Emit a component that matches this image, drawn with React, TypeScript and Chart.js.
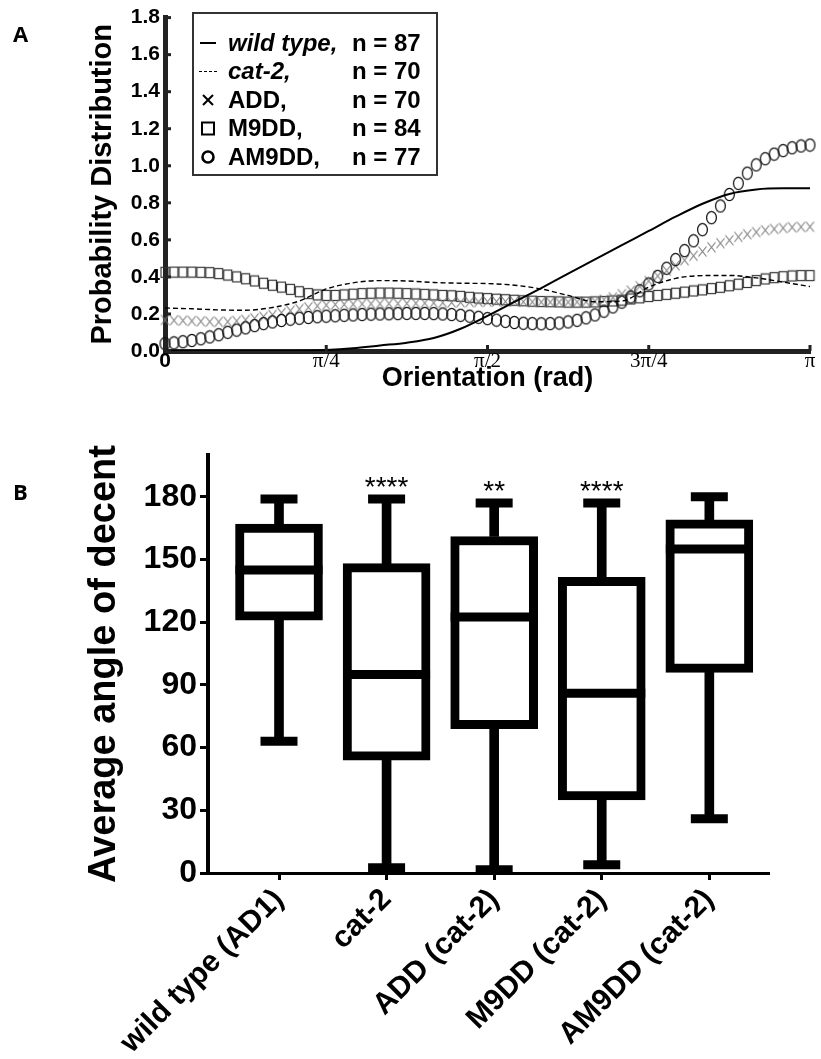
import React, { useEffect, useRef } from 'react';
import { Chart, registerables } from 'chart.js';

Chart.register(...registerables);
Chart.defaults.font.family = "'Liberation Sans', Arial, sans-serif";
Chart.defaults.color = '#000';

// ---------------- Panel A data ----------------
// sampling grids (orientation in radians)
const FINE_STEP_COUNT = 72;
const COARSE_STEP_COUNT = 24;
const FINE_ANGLES = Array.from({ length: FINE_STEP_COUNT + 1 }, (_, i) => (i * Math.PI) / FINE_STEP_COUNT);
const COARSE_ANGLES = Array.from({ length: COARSE_STEP_COUNT + 1 }, (_, i) => (i * Math.PI) / COARSE_STEP_COUNT);

const WILD_TYPE = [
  0, 0, 0, 0, 0, 0, 0.005, 0.015, 0.03, 0.045, 0.07, 0.12, 0.19, 0.265, 0.34, 0.418, 0.495, 0.572, 0.648,
  0.725, 0.795, 0.848, 0.872, 0.878, 0.878,
];
const CAT2 = [
  0.232, 0.228, 0.222, 0.22, 0.235, 0.27, 0.335, 0.368, 0.38, 0.378, 0.37, 0.366, 0.364, 0.355, 0.335, 0.3,
  0.266, 0.27, 0.345, 0.392, 0.407, 0.408, 0.395, 0.372, 0.348,
];
const ADD = [
  0.168, 0.166, 0.164, 0.162, 0.16, 0.158, 0.157, 0.158, 0.162, 0.168,
  0.176, 0.185, 0.195, 0.206, 0.217, 0.227, 0.236, 0.243, 0.248, 0.251,
  0.252, 0.253, 0.254, 0.255, 0.255, 0.256, 0.256, 0.257, 0.258, 0.259,
  0.26, 0.261, 0.262, 0.263, 0.264, 0.265, 0.266, 0.267, 0.267, 0.267,
  0.266, 0.265, 0.264, 0.264, 0.264, 0.264, 0.265, 0.266, 0.268, 0.278,
  0.29, 0.307, 0.326, 0.35, 0.378, 0.405, 0.434, 0.462, 0.49, 0.514,
  0.537, 0.56, 0.582, 0.598, 0.616, 0.63, 0.642, 0.652, 0.659, 0.664,
  0.668, 0.67, 0.671,
];
const M9DD = [
  0.425, 0.426, 0.426, 0.426, 0.425, 0.423, 0.418, 0.41, 0.4, 0.39,
  0.378, 0.366, 0.355, 0.345, 0.333, 0.32, 0.31, 0.303, 0.3, 0.3,
  0.303, 0.307, 0.31, 0.312, 0.313, 0.313, 0.312, 0.31, 0.308, 0.306,
  0.303, 0.3, 0.298, 0.295, 0.29, 0.286, 0.283, 0.28, 0.277, 0.274,
  0.271, 0.269, 0.267, 0.266, 0.265, 0.264, 0.264, 0.264, 0.265, 0.267,
  0.27, 0.275, 0.281, 0.287, 0.294, 0.3, 0.306, 0.312, 0.318, 0.324,
  0.33, 0.337, 0.344, 0.352, 0.361, 0.37, 0.38, 0.389, 0.396, 0.401,
  0.405, 0.407, 0.407,
];
const AM9DD = [
  0.04, 0.044, 0.05, 0.057, 0.066, 0.076, 0.088, 0.101, 0.113, 0.125,
  0.137, 0.148, 0.157, 0.165, 0.172, 0.177, 0.181, 0.185, 0.188, 0.19,
  0.193, 0.195, 0.197, 0.199, 0.2, 0.201, 0.202, 0.203, 0.203, 0.203,
  0.202, 0.2, 0.197, 0.193, 0.188, 0.182, 0.175, 0.167, 0.16, 0.154,
  0.15, 0.148, 0.147, 0.148, 0.151, 0.157, 0.166, 0.179, 0.195, 0.215,
  0.238, 0.264, 0.292, 0.325, 0.362, 0.403, 0.447, 0.494, 0.542, 0.595,
  0.655, 0.72, 0.783, 0.845, 0.905, 0.96, 1.005, 1.038, 1.063, 1.082,
  1.097, 1.107, 1.112,
];

const X_TICK_VALUES_A = [0, Math.PI / 4, Math.PI / 2, (3 * Math.PI) / 4, Math.PI];
const X_TICK_LABELS_A = ['0', 'π/4', 'π/2', '3π/4', 'π'];
const Y_TICK_VALUES_A = [0, 0.2, 0.4, 0.6, 0.8, 1.0, 1.2, 1.4, 1.6, 1.8];

const LEGEND_NAMES = ['wild type,', 'cat-2,', 'ADD,', 'M9DD,', 'AM9DD,'];
const LEGEND_ITALIC = [true, true, false, false, false];
const LEGEND_N = [87, 70, 70, 84, 77];
const LEGEND_SYMBOLS = ['line', 'dash', 'cross', 'square', 'circle'];

// ---------------- Panel B data ----------------
const CATEGORIES = ['wild type (AD1)', 'cat-2', 'ADD (cat-2)', 'M9DD (cat-2)', 'AM9DD (cat-2)'];
const WHISKER_MIN = [63, 2.5, 1.5, 4, 26];
const Q1 = [121, 54, 69, 35, 96];
const MEDIAN = [145, 95, 122.5, 86, 155];
const Q3 = [167, 148, 161, 141.5, 169];
const WHISKER_MAX = [179, 179, 177, 177, 180];
const SIGNIFICANCE = ['', '****', '**', '****', ''];
const Y_TICK_VALUES_B = [0, 30, 60, 90, 120, 150, 180];

const toXY = (xs: number[], ys: number[]) => ys.map((y, i) => ({ x: xs[i], y }));
const byCategory = (ys: number[]) => ys.map((y, i) => ({ x: i, y }));
const rangeByCategory = (lo: number[], hi: number[]) => lo.map((l, i) => ({ x: i, y: [l, hi[i]] }));

// slightly tall marker glyphs, as in the reference figure
const makeMarker = (kind: string) => {
  const c = document.createElement('canvas');
  const g = c.getContext('2d') as CanvasRenderingContext2D;
  if (kind === 'circle') {
    c.width = 13; c.height = 15;
    g.strokeStyle = '#111'; g.lineWidth = 1.25;
    g.beginPath(); g.ellipse(6.5, 7.5, 4.9, 6.2, 0, 0, Math.PI * 2); g.stroke();
  } else if (kind === 'square') {
    c.width = 11; c.height = 13;
    g.strokeStyle = '#333'; g.lineWidth = 1.2;
    g.strokeRect(1.5, 1.5, 8, 10);
  } else {
    c.width = 11; c.height = 13;
    g.strokeStyle = '#7a7a7a'; g.lineWidth = 1.1;
    g.beginPath();
    g.moveTo(1.5, 1.5); g.lineTo(9.5, 11.5);
    g.moveTo(9.5, 1.5); g.lineTo(1.5, 11.5);
    g.stroke();
  }
  return c;
};

const panelLabel = (text: string, x: number, y: number) => ({
  id: 'panelLabel' + text,
  afterDraw(chart: any) {
    const ctx = chart.ctx;
    ctx.save();
    ctx.font = "bold 22px 'Open Sans', 'Liberation Sans', sans-serif";
    ctx.fillStyle = '#000';
    ctx.textBaseline = 'alphabetic';
    ctx.fillText(text, x, y);
    ctx.restore();
  },
});

const innerTicksPlugin = {
  id: 'innerTicks',
  afterDraw(chart: any) {
    const { ctx, chartArea, scales } = chart;
    ctx.save();
    ctx.fillStyle = '#222';
    Y_TICK_VALUES_A.forEach((v) => {
      const y = scales.y.getPixelForValue(v);
      ctx.fillRect(chartArea.left, y - 1.5, 6, 3);
    });
    X_TICK_VALUES_A.forEach((v) => {
      const x = scales.x.getPixelForValue(v);
      ctx.fillRect(x - 1.5, chartArea.bottom - 6, 3, 6);
    });
    ctx.restore();
  },
};

const legendPluginA = {
  id: 'legendA',
  afterDatasetsDraw(chart: any) {
    const ctx = chart.ctx;
    const boxX = 193, boxY = 13, boxW = 244, boxH = 162;
    ctx.save();
    ctx.fillStyle = '#fff';
    ctx.fillRect(boxX, boxY, boxW, boxH);
    ctx.strokeStyle = '#333';
    ctx.lineWidth = 2;
    ctx.strokeRect(boxX, boxY, boxW, boxH);
    LEGEND_NAMES.forEach((name, i) => {
      const cy = 43 + i * 28.5;
      const sx = 208;
      ctx.strokeStyle = '#000';
      ctx.setLineDash([]);
      ctx.beginPath();
      const kind = LEGEND_SYMBOLS[i];
      if (kind === 'line') {
        ctx.lineWidth = 2;
        ctx.moveTo(sx - 8, cy); ctx.lineTo(sx + 8, cy);
      } else if (kind === 'dash') {
        ctx.lineWidth = 1.2;
        ctx.setLineDash([3, 2]);
        ctx.moveTo(sx - 9, cy); ctx.lineTo(sx + 9, cy);
      } else if (kind === 'cross') {
        ctx.lineWidth = 2;
        ctx.moveTo(sx - 5, cy - 5); ctx.lineTo(sx + 5, cy + 5);
        ctx.moveTo(sx + 5, cy - 5); ctx.lineTo(sx - 5, cy + 5);
      } else if (kind === 'square') {
        ctx.lineWidth = 2;
        ctx.rect(sx - 6, cy - 6, 12, 12);
      } else {
        ctx.lineWidth = 2.6;
        ctx.arc(sx, cy, 5.5, 0, Math.PI * 2);
      }
      ctx.stroke();
      ctx.setLineDash([]);
      ctx.fillStyle = '#000';
      ctx.textBaseline = 'middle';
      ctx.textAlign = 'left';
      ctx.font = `${LEGEND_ITALIC[i] ? 'italic ' : ''}bold 24px 'Liberation Sans', Arial, sans-serif`;
      ctx.fillText(name, 228, cy + 1);
      ctx.font = "bold 24px 'Liberation Sans', Arial, sans-serif";
      ctx.fillText(`n = ${LEGEND_N[i]}`, 352, cy + 1);
    });
    ctx.restore();
  },
};

const significancePlugin = {
  id: 'significance',
  afterDatasetsDraw(chart: any) {
    const { ctx, scales } = chart;
    ctx.save();
    ctx.font = "28px 'Liberation Sans', Arial, sans-serif";
    ctx.fillStyle = '#000';
    ctx.textAlign = 'center';
    ctx.textBaseline = 'alphabetic';
    SIGNIFICANCE.forEach((s, i) => {
      if (!s) return;
      const x = scales.x.getPixelForValue(i);
      const y = scales.y.getPixelForValue(WHISKER_MAX[i]);
      ctx.fillText(s, x, y - 3);
    });
    ctx.restore();
  },
};

export default function App() {
  const refA = useRef<HTMLCanvasElement>(null);
  const refB = useRef<HTMLCanvasElement>(null);

  useEffect(() => {
    const circleMarker = makeMarker('circle');
    const squareMarker = makeMarker('square');
    const crossMarker = makeMarker('cross');

    const chartA = new Chart(refA.current as HTMLCanvasElement, {
      type: 'line',
      data: {
        datasets: [
          {
            label: 'wild type',
            data: toXY(COARSE_ANGLES, WILD_TYPE),
            borderColor: '#000',
            borderWidth: 2,
            pointRadius: 0,
            cubicInterpolationMode: 'monotone',
            fill: false,
          },
          {
            label: 'cat-2',
            data: toXY(COARSE_ANGLES, CAT2),
            borderColor: '#000',
            borderWidth: 1.4,
            borderDash: [5, 3],
            pointRadius: 0,
            cubicInterpolationMode: 'monotone',
            fill: false,
          },
          {
            label: 'AM9DD',
            data: toXY(FINE_ANGLES, AM9DD),
            showLine: false,
            pointStyle: circleMarker,
            pointRadius: 6,
            clip: false,
          },
          {
            label: 'ADD',
            data: toXY(FINE_ANGLES, ADD),
            showLine: false,
            pointStyle: crossMarker,
            pointRadius: 6,
            clip: false,
          },
          {
            label: 'M9DD',
            data: toXY(FINE_ANGLES, M9DD),
            showLine: false,
            pointStyle: squareMarker,
            pointRadius: 6,
            clip: false,
          },
        ],
      } as any,
      options: {
        responsive: false,
        animation: false,
        events: [],
        layout: { padding: { left: 0, top: 16, right: 11, bottom: 0 } },
        plugins: { legend: { display: false }, tooltip: { enabled: false } },
        scales: {
          x: {
            type: 'linear',
            min: 0,
            max: Math.PI,
            afterBuildTicks: (s: any) => {
              s.ticks = X_TICK_VALUES_A.map((v) => ({ value: v }));
            },
            afterFit: (s: any) => {
              s.height = 49;
            },
            grid: { display: false, drawTicks: false },
            border: { display: true, color: '#222', width: 5 },
            ticks: {
              autoSkip: false,
              maxRotation: 0,
              padding: -2,
              color: '#000',
              callback: (_v: any, i: number) => X_TICK_LABELS_A[i],
              font: (c: any) =>
                c.index === 0
                  ? { family: "'Liberation Sans', Arial, sans-serif", size: 21, weight: 'bold' }
                  : { family: "'Liberation Serif', 'Times New Roman', serif", size: 21, weight: 'normal' },
            },
            title: {
              display: true,
              text: 'Orientation (rad)',
              color: '#000',
              font: { size: 27, weight: 'bold' },
              padding: { top: 0, bottom: 5 },
            },
          },
          y: {
            type: 'linear',
            min: 0,
            max: 1.8,
            afterBuildTicks: (s: any) => {
              s.ticks = Y_TICK_VALUES_A.map((v) => ({ value: v }));
            },
            afterFit: (s: any) => {
              s.width = 165;
            },
            grid: { display: false, drawTicks: false },
            border: { display: true, color: '#222', width: 5 },
            ticks: {
              padding: 5,
              color: '#000',
              font: { size: 21, weight: 'bold' },
              callback: (v: any) => Number(v).toFixed(1),
            },
            title: {
              display: true,
              text: 'Probability Distribution',
              color: '#000',
              font: { size: 29, weight: 'bold' },
              padding: { top: 86, bottom: 0 },
            },
          },
        },
      } as any,
      plugins: [innerTicksPlugin, legendPluginA, panelLabel('A', 13, 42)],
    });

    const chartB = new Chart(refB.current as HTMLCanvasElement, {
      type: 'bar',
      data: {
        datasets: [
          {
            type: 'bar',
            label: 'upper whisker',
            data: rangeByCategory(Q3, WHISKER_MAX),
            backgroundColor: '#000',
            borderWidth: 0,
            barThickness: 9,
            grouped: false,
            order: 3,
          },
          {
            type: 'bar',
            label: 'lower whisker',
            data: rangeByCategory(WHISKER_MIN, Q1),
            backgroundColor: '#000',
            borderWidth: 0,
            barThickness: 9,
            grouped: false,
            order: 3,
          },
          {
            type: 'bar',
            label: 'box',
            data: rangeByCategory(Q1, Q3),
            backgroundColor: '#fff',
            borderColor: '#000',
            borderWidth: 9,
            borderSkipped: false,
            barThickness: 87,
            grouped: false,
            order: 2,
          },
          {
            type: 'line',
            label: 'median',
            data: byCategory(MEDIAN),
            showLine: false,
            pointStyle: 'line',
            pointRadius: 43.5,
            pointBorderWidth: 9,
            borderColor: '#000',
            pointBorderColor: '#000',
            order: 1,
          },
          {
            type: 'line',
            label: 'max',
            data: byCategory(WHISKER_MAX),
            showLine: false,
            pointStyle: 'line',
            pointRadius: 18.5,
            pointBorderWidth: 9,
            borderColor: '#000',
            pointBorderColor: '#000',
            order: 1,
            clip: false,
          },
          {
            type: 'line',
            label: 'min',
            data: byCategory(WHISKER_MIN),
            showLine: false,
            pointStyle: 'line',
            pointRadius: 18.5,
            pointBorderWidth: 9,
            borderColor: '#000',
            pointBorderColor: '#000',
            order: 1,
            clip: false,
          },
        ],
      } as any,
      options: {
        responsive: false,
        animation: false,
        events: [],
        layout: { padding: { left: 0, top: 55, right: 6, bottom: 0 } },
        plugins: { legend: { display: false }, tooltip: { enabled: false } },
        scales: {
          x: {
            type: 'linear',
            min: -0.66,
            max: 4.55,
            offset: false,
            afterBuildTicks: (s: any) => {
              s.ticks = CATEGORIES.map((_, i) => ({ value: i }));
            },
            afterFit: (s: any) => {
              s.height = 186;
            },
            grid: {
              display: true,
              offset: false,
              drawOnChartArea: false,
              drawTicks: true,
              tickLength: 7,
              lineWidth: 3,
              color: '#000',
            },
            border: { display: true, color: '#000', width: 3 },
            ticks: {
              autoSkip: false,
              minRotation: 45,
              maxRotation: 45,
              padding: 2,
              color: '#000',
              font: { size: 30, weight: 'bold' },
              callback: (_v: any, i: number) => CATEGORIES[i],
            },
          },
          y: {
            type: 'linear',
            min: 0,
            max: 200,
            afterBuildTicks: (s: any) => {
              s.ticks = Y_TICK_VALUES_B.map((v) => ({ value: v }));
            },
            afterFit: (s: any) => {
              s.width = 208;
            },
            grid: {
              display: true,
              drawOnChartArea: false,
              drawTicks: true,
              tickLength: 8,
              lineWidth: 3,
              color: '#000',
            },
            border: { display: true, color: '#000', width: 4 },
            ticks: {
              padding: 3,
              color: '#000',
              font: { size: 32, weight: 'bold' },
            },
            title: {
              display: true,
              text: 'Average angle of decent',
              color: '#000',
              font: { size: 38, weight: 'bold' },
              padding: { top: 82, bottom: 0 },
            },
          },
        },
      } as any,
      plugins: [significancePlugin, panelLabel('B', 13, 100)],
    });

    return () => {
      chartA.destroy();
      chartB.destroy();
    };
  }, []);

  return (
    <div style={{ position: 'absolute', left: 0, top: 0, width: 821, height: 1059, background: '#fff' }}>
      <canvas ref={refA} width={821} height={400} style={{ position: 'absolute', left: 0, top: 0 }} />
      <canvas ref={refB} width={821} height={659} style={{ position: 'absolute', left: 0, top: 400 }} />
    </div>
  );
}
